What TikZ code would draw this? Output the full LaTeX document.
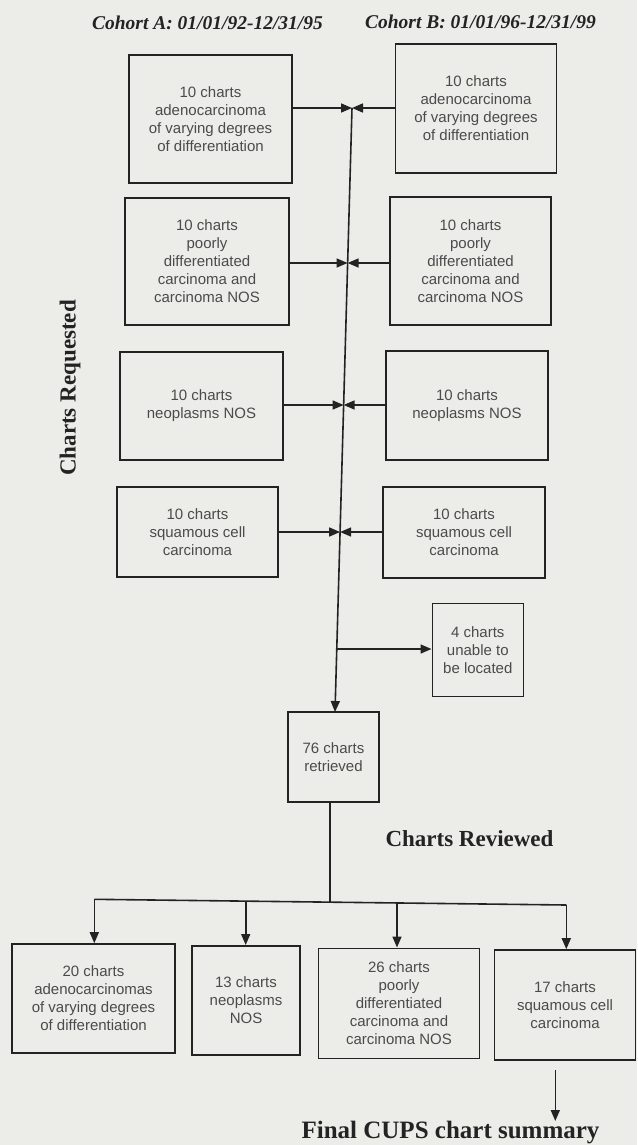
\documentclass[tikz,border=0pt]{standalone}
\usepackage{fontspec}
\setmainfont{Liberation Serif}
\setsansfont{Liberation Sans}
\usetikzlibrary{arrows.meta}
\definecolor{paper}{RGB}{236,236,233}
\definecolor{ink}{RGB}{35,35,35}
\definecolor{txt}{RGB}{75,75,75}
\begin{document}
\begin{tikzpicture}[x=1pt,y=-1pt,
  box/.style={draw=ink,line width=1.6pt,align=center,inner sep=0pt,
    text=txt,font=\sffamily\fontsize{15}{18}\selectfont},
  line/.style={draw=ink,line width=1.6pt},
  arr/.style={line,-{Triangle[length=11pt,width=9pt]}},
  title/.style={font=\rmfamily\bfseries\itshape\fontsize{19.5}{22}\selectfont,text=ink,inner sep=0pt},
  head/.style={font=\rmfamily\bfseries\fontsize{23}{26}\selectfont,text=ink,inner sep=0pt}]
\fill[paper] (0,0) rectangle (637,1145);
\useasboundingbox (0,0) rectangle (637,1145);

% titles
\node[title] (ta) at (207.5,23) {Cohort A: 01/01/92-12/31/95};
\node[title] (tb) at (480.5,22) {Cohort B: 01/01/96-12/31/99};
\node[head,rotate=90] (req) at (70,388) {Charts Requested};
\node[head,anchor=base] (rev) at (469.5,846.7) {Charts Reviewed};
\node[head,anchor=base,font=\rmfamily\bfseries\fontsize{25}{28}\selectfont] (fin) at (450.5,1138.5) {Final CUPS chart summary};

% cohort A
\node[box,minimum width=163pt,minimum height=128pt] (A1) at (210.5,119) {10 charts\\adenocarcinoma\\of varying degrees\\of differentiation};
\node[box,minimum width=164pt,minimum height=127pt] (A2) at (207,261.5) {10 charts\\poorly\\differentiated\\carcinoma and\\carcinoma NOS};
\node[box,minimum width=163pt,minimum height=108pt] (A3) at (201.5,406) {10 charts\\neoplasms NOS};
\node[box,minimum width=161pt,minimum height=90pt] (A4) at (197.5,532) {10 charts\\squamous cell\\carcinoma};
% cohort B
\node[box,minimum width=161pt,minimum height=129pt] (B1) at (476,108.5) {10 charts\\adenocarcinoma\\of varying degrees\\of differentiation};
\node[box,minimum width=161pt,minimum height=128pt] (B2) at (470.5,261) {10 charts\\poorly\\differentiated\\carcinoma and\\carcinoma NOS};
\node[box,minimum width=162pt,minimum height=109pt] (B3) at (467,405.5) {10 charts\\neoplasms NOS};
\node[box,minimum width=162pt,minimum height=91pt] (B4) at (464,532.5) {10 charts\\squamous cell\\carcinoma};
% middle
\node[box,minimum width=91pt,minimum height=93pt] (U) at (477.8,650) {4 charts\\unable to\\be located};
\node[box,minimum width=91pt,minimum height=90pt] (R) at (333.5,757) {76 charts\\retrieved};
% reviewed
\node[box,minimum width=163pt,minimum height=109pt] (C1) at (93.5,998.5) {20 charts\\adenocarcinomas\\of varying degrees\\of differentiation};
\node[box,minimum width=108pt,minimum height=109pt] (C2) at (246,1000.3) {13 charts\\neoplasms\\NOS};
\node[box,minimum width=161pt,minimum height=110pt] (C3) at (399,1003.3) {26 charts\\poorly\\differentiated\\carcinoma and\\carcinoma NOS};
\node[box,minimum width=141pt,minimum height=110pt] (C4) at (565,1005) {17 charts\\squamous cell\\carcinoma};

% trunk
\coordinate (j1) at (352,108);
\coordinate (j2) at (347.6,263);
\coordinate (j3) at (343.6,405);
\coordinate (j4) at (340.1,532);
\coordinate (ju) at (336.8,649);
\coordinate (jr) at (335,712);
\draw[arr] (j1) -- (jr);
\draw[arr] (A1.east |- j1) -- (j1);
\draw[arr] (B1.west |- j1) -- (j1);
\draw[arr] (A2.east |- j2) -- (j2);
\draw[arr] (B2.west |- j2) -- (j2);
\draw[arr] (A3.east |- j3) -- (j3);
\draw[arr] (B3.west |- j3) -- (j3);
\draw[arr] (A4.east |- j4) -- (j4);
\draw[arr] (B4.west |- j4) -- (j4);
\draw[arr] (ju) -- (U.west |- ju);

% bus
\coordinate (rb) at (330,802);
\coordinate (bm) at (330,902);
\coordinate (b1) at (94.3,899.3);
\coordinate (b2) at (245.7,901);
\coordinate (b3) at (397,903);
\coordinate (b4) at (566.3,905);
\draw[line] (rb) -- (bm);
\draw[line] (b1) -- (b4);
\draw[arr] (b1) -- (b1 |- C1.north);
\draw[arr] (b2) -- (b2 |- C2.north);
\draw[arr] (b3) -- (b3 |- C3.north);
\draw[arr] (b4) -- (b4 |- C4.north);

% final
\coordinate (f1) at (555.3,1070);
\coordinate (f2) at (555.3,1121);
\draw[arr] (f1) -- (f2);
\end{tikzpicture}
\end{document}
